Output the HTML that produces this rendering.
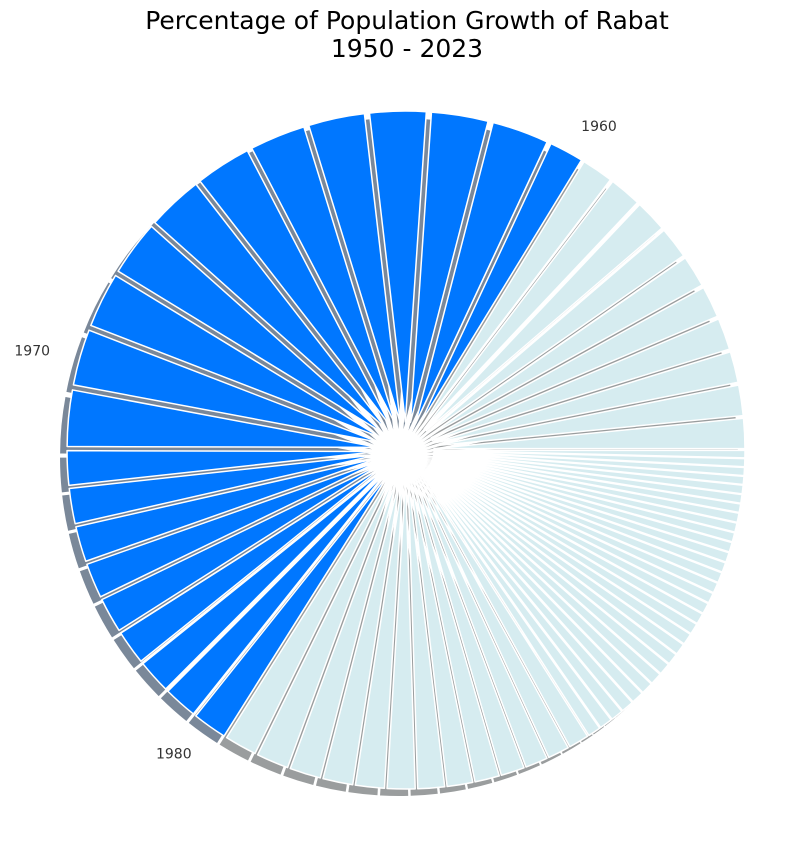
<!DOCTYPE html>
<html>
<head>
<meta charset="utf-8">
<style>
  html, body { margin: 0; padding: 0; background: #ffffff; }
  body { width: 801px; height: 845px; overflow: hidden; }
  svg { display: block; }
  text { font-family: "DejaVu Sans", "Liberation Sans", sans-serif; }
</style>
</head>
<body>
<svg id="chart" width="801" height="845" viewBox="0 0 801 845" xmlns="http://www.w3.org/2000/svg">
  <text x="407" y="29" font-size="25" text-anchor="middle" fill="#000">Percentage of Population Growth of Rabat</text>
  <text x="407" y="57" font-size="25" text-anchor="middle" fill="#000">1950 - 2023</text>
  <g id="shadows"></g>
  <g id="slices"></g>
  <g id="labels"></g>
</svg>
<script>
const years = [1950,1951,1952,1953,1954,1955,1956,1957,1958,1959,
  1960,1961,1962,1963,1964,1965,1966,1967,1968,1969,
  1970,1971,1972,1973,1974,1975,1976,1977,1978,1979,
  1980,1981,1982,1983,1984,1985,1986,1987,1988,1989,
  1990,1991,1992,1993,1994,1995,1996,1997,1998,1999,
  2000,2001,2002,2003,2004,2005,2006,2007,2008,2009,
  2010,2011,2012,2013,2014,2015,2016,2017,2018,2019,
  2020,2021,2022,2023];
const growth = [5.6,5.7,5.8,5.9,5.9,5.9,5.9,6.0,6.0,5.9,
  6.4,10.6,10.6,10.5,10.5,10.4,10.4,10.4,10.3,10.3,
  10.5,10.5,6.4,6.6,6.6,6.5,6.5,6.4,6.3,6.3,
  6.4,6.0,6.0,5.8,5.6,5.4,5.2,5.0,4.8,4.6,
  4.4,4.2,4.0,3.8,2.4,2.4,2.3,2.3,2.3,2.2,
  2.2,2.2,2.1,2.1,2.1,2.0,2.0,2.0,1.9,1.9,
  1.9,1.8,1.8,1.8,1.7,1.7,1.7,1.6,1.6,1.6,
  1.5,1.5,1.5,1.4];
const labeledYears = [1960, 1970, 1980];
const highlightStart = 1960;
const highlightEnd = 1980;

const NS = "http://www.w3.org/2000/svg";
const cx = 406, cy = 450, R = 311, explode = 28, labelDist = 1.1;
const total = growth.reduce((a, b) => a + b, 0);
const shadowsG = document.getElementById('shadows');
const slicesG = document.getElementById('slices');
const labelsG = document.getElementById('labels');

function wedgePath(ox, oy, a0, a1) {
  const r0 = a0 * Math.PI / 180, r1 = a1 * Math.PI / 180;
  const x0 = ox + R * Math.cos(r0), y0 = oy - R * Math.sin(r0);
  const x1 = ox + R * Math.cos(r1), y1 = oy - R * Math.sin(r1);
  const large = (a1 - a0) > 180 ? 1 : 0;
  return `M${ox},${oy} L${x0},${y0} A${R},${R} 0 ${large} 0 ${x1},${y1} Z`;
}

let start = 0;
years.forEach((yr, i) => {
  const span = growth[i] / total * 360;
  const a0 = start, a1 = start + span, mid = (a0 + a1) / 2;
  const mr = mid * Math.PI / 180;
  const ox = cx + explode * Math.cos(mr), oy = cy - explode * Math.sin(mr);
  const hi = yr >= highlightStart && yr <= highlightEnd;

  const sh = document.createElementNS(NS, 'path');
  sh.setAttribute('d', wedgePath(ox - 7, oy + 7, a0, a1));
  sh.setAttribute('fill', hi ? '#7a8899' : '#9a9d9e');
  
  
  shadowsG.appendChild(sh);

  const p = document.createElementNS(NS, 'path');
  p.setAttribute('d', wedgePath(ox, oy, a0, a1));
  p.setAttribute('fill', hi ? '#0077ff' : '#d6ecf0');
  p.setAttribute('stroke', '#ffffff');
  p.setAttribute('stroke-width', '1.5');
  p.setAttribute('stroke-linejoin', 'round');
  
  
  slicesG.appendChild(p);

  if (labeledYears.includes(yr)) {
    const lx = ox + R * labelDist * Math.cos(mr);
    const ly = oy - R * labelDist * Math.sin(mr);
    const t = document.createElementNS(NS, 'text');
    t.setAttribute('x', lx);
    t.setAttribute('y', ly + 7);
    t.setAttribute('font-size', '14');
    t.setAttribute('fill', '#333');
    t.setAttribute('text-anchor', Math.cos(mr) >= 0 ? 'start' : 'end');
    t.textContent = String(yr);
    
    
    labelsG.appendChild(t);
  }
  start = a1;
});
</script>
</body>
</html>
